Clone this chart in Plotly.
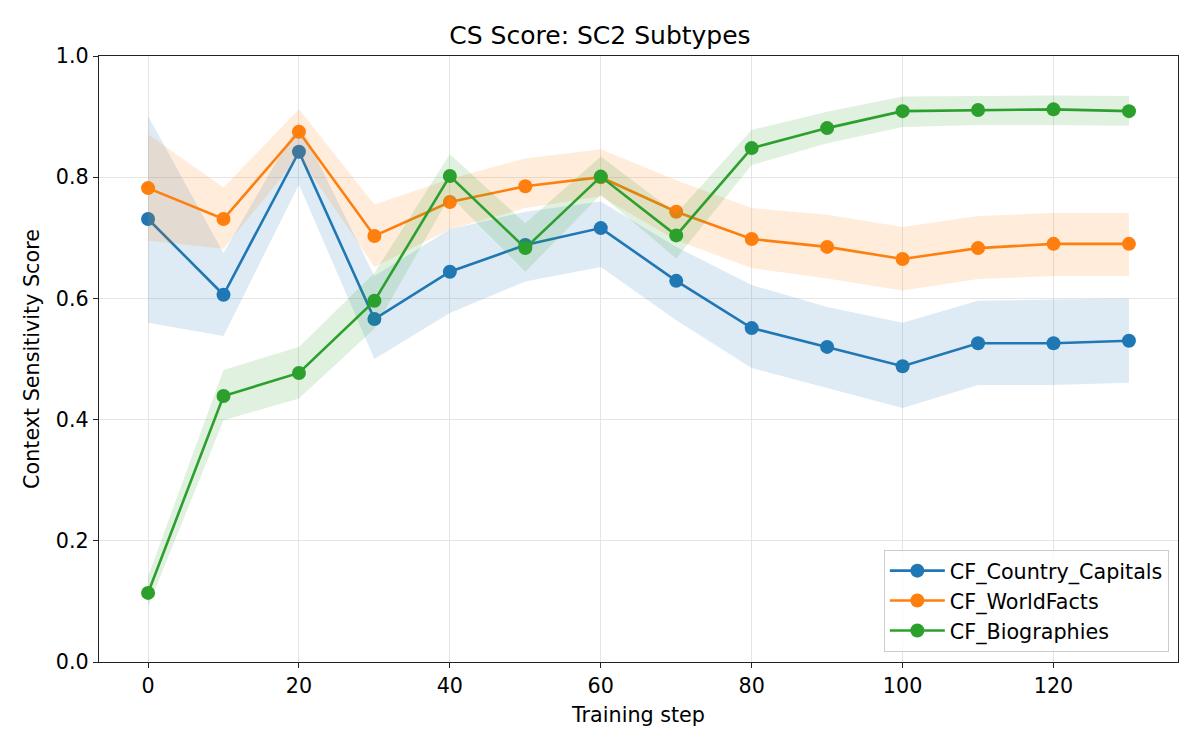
import plotly.graph_objects as go

steps = [0, 10, 20, 30, 40, 50, 60, 70, 80, 90, 100, 110, 120, 130]

cap_mean = [0.731, 0.606, 0.842, 0.566, 0.644, 0.688, 0.716, 0.629, 0.551, 0.520, 0.488, 0.526, 0.526, 0.530]
cap_upper = [0.901, 0.675, 0.890, 0.637, 0.714, 0.743, 0.760, 0.685, 0.622, 0.586, 0.560, 0.596, 0.598, 0.600]
cap_lower = [0.560, 0.538, 0.788, 0.500, 0.576, 0.628, 0.652, 0.564, 0.485, 0.452, 0.419, 0.457, 0.457, 0.461]

wf_mean = [0.782, 0.731, 0.875, 0.703, 0.759, 0.785, 0.800, 0.743, 0.698, 0.685, 0.665, 0.683, 0.690, 0.690]
wf_upper = [0.871, 0.783, 0.912, 0.755, 0.797, 0.831, 0.846, 0.795, 0.749, 0.738, 0.718, 0.736, 0.741, 0.741]
wf_lower = [0.695, 0.682, 0.835, 0.652, 0.714, 0.749, 0.768, 0.696, 0.650, 0.633, 0.613, 0.632, 0.637, 0.637]

bio_mean = [0.114, 0.439, 0.477, 0.596, 0.802, 0.683, 0.801, 0.704, 0.848, 0.881, 0.909, 0.911, 0.912, 0.909]
bio_upper = [0.141, 0.482, 0.520, 0.642, 0.838, 0.724, 0.834, 0.740, 0.878, 0.908, 0.933, 0.934, 0.935, 0.934]
bio_lower = [0.091, 0.399, 0.435, 0.550, 0.769, 0.644, 0.771, 0.666, 0.820, 0.856, 0.883, 0.886, 0.886, 0.885]

series = [
    ("CF_Country_Capitals", cap_mean, cap_upper, cap_lower, "#1f77b4", "rgba(31,119,180,0.15)"),
    ("CF_WorldFacts", wf_mean, wf_upper, wf_lower, "#ff7f0e", "rgba(255,127,14,0.15)"),
    ("CF_Biographies", bio_mean, bio_upper, bio_lower, "#2ca02c", "rgba(44,160,44,0.15)"),
]

fig = go.Figure()
for i, (name, m, up, lo, col, fill) in enumerate(series):
    fig.add_trace(go.Scatter(x=steps + steps[::-1], y=up + lo[::-1], mode="lines",
                             line=dict(width=0, color=fill), fill="toself", fillcolor=fill,
                             showlegend=False, hoverinfo="skip"))
    fig.add_trace(go.Scatter(x=steps, y=m, mode="lines+markers", name=name,
                             legendgroup=f"g{i}",
                             line=dict(color=col, width=2.6),
                             marker=dict(color=col, size=14, symbol="circle")))

font = "DejaVu Sans"
fs = 20.7
fig.update_layout(
    width=1200, height=750,
    paper_bgcolor="white", plot_bgcolor="white",
    margin=dict(l=99, r=22, t=56, b=88),
    font=dict(family=font, size=fs, color="black"),
    title=dict(text="CS Score: SC2 Subtypes", x=0.5, xanchor="center", y=0.953, yanchor="middle",
               font=dict(family=font, size=25, color="black")),
    xaxis=dict(range=[-6.5, 136.5], tickvals=[0, 20, 40, 60, 80, 100, 120],
               showgrid=True, gridcolor="#e5e5e5", gridwidth=1, zeroline=False,
               showline=True, linecolor="#222222", linewidth=1.3, mirror=True,
               ticks="outside", ticklen=5, tickcolor="#222222",
               tickfont=dict(size=fs),
               title=dict(text="Training step", font=dict(size=fs), standoff=10)),
    yaxis=dict(range=[0, 1], tickvals=[0, 0.2, 0.4, 0.6, 0.8, 1.0], tickformat=".1f",
               showgrid=True, gridcolor="#e5e5e5", gridwidth=1, zeroline=False,
               showline=True, linecolor="#222222", linewidth=1.3, mirror=True,
               ticks="outside", ticklen=5, tickcolor="#222222",
               tickfont=dict(size=fs),
               title=dict(text="Context Sensitivity Score", font=dict(size=fs), standoff=10)),
    legend=dict(x=0.9915, y=0.017, xanchor="right", yanchor="bottom",
                traceorder="normal", itemwidth=55,
                bgcolor="rgba(255,255,255,0.8)", bordercolor="#cccccc", borderwidth=1,
                font=dict(size=fs), tracegroupgap=5),
)

fig.write_html("out.html")
